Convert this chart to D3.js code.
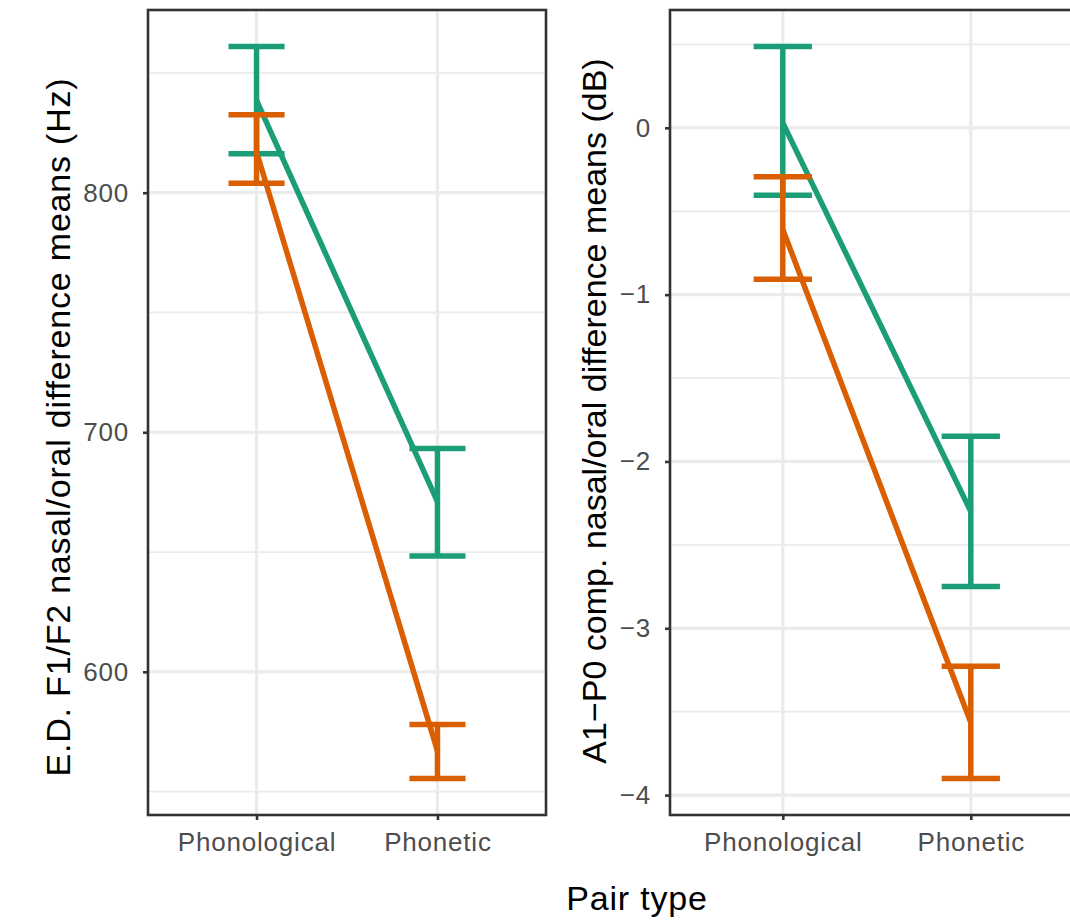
<!DOCTYPE html>
<html lang="en">
<head>
  <meta charset="UTF-8">
  <title>Pair type – nasal/oral difference means</title>
  <script src="https://d3js.org/d3.v7.min.js"></script>
  <style>
    html, body {
      margin: 0;
      padding: 0;
      background: #fff;
      overflow: hidden;
    }
    svg text {
      font-family: "Liberation Sans", Arial, sans-serif;
    }
    .grid-major { stroke: #ebebeb; stroke-width: 3.2px; }
    .grid-minor { stroke: #ebebeb; stroke-width: 1.8px; }
    .axis path { display: none; }
    .axis line { stroke: #333; stroke-width: 2.6px; }
    .axis text { fill: #4d4d4d; font-size: 26px; letter-spacing: 0.8px; }
    .frame { fill: none; stroke: #333; stroke-width: 2.6px; }
    .mean-line, .err { fill: none; stroke-width: 5.5px; stroke-linecap: butt; }
    .title { fill: #000; font-size: 34px; }
  </style>
</head>
<body>
  <svg id="chart" width="1100" height="924"></svg>

  <script>
    // categories on the x axis
    const pairTypes = ["Phonological", "Phonetic"];
    const seriesColors = ["#1b9e77", "#d95f02"];

    // left panel: E.D. F1/F2 (Hz)
    const edMeanGreen = [838.5, 671];
    const edLowGreen = [816.3, 648.3];
    const edHighGreen = [861, 693.2];
    const edMeanOrange = [817, 567];
    const edLowOrange = [804, 555.5];
    const edHighOrange = [832.5, 578];
    const edTicks = [600, 700, 800];
    const edMinor = [550, 650, 750, 850];

    // right panel: A1-P0 comp. (dB)
    const a1MeanGreen = [0.03, -2.3];
    const a1LowGreen = [-0.404, -2.75];
    const a1HighGreen = [0.487, -1.849];
    const a1MeanOrange = [-0.61, -3.565];
    const a1LowOrange = [-0.908, -3.90];
    const a1HighOrange = [-0.293, -3.228];
    const a1Ticks = [-4, -3, -2, -1, 0];
    const a1Minor = [-3.5, -2.5, -1.5, -0.5, 0.5];

    const svg = d3.select("#chart");
    const panelTop = 10, panelBottom = 815;
    const fmt = d => (d < 0 ? "\u2212" + Math.abs(d) : String(d));

    function series(mean, low, high) {
      return pairTypes.map((c, i) => ({ cat: c, mean: mean[i], low: low[i], high: high[i] }));
    }

    const panels = [
      {
        left: 148, right: 546,
        ticks: edTicks, minor: edMinor,
        data: [series(edMeanGreen, edLowGreen, edHighGreen), series(edMeanOrange, edLowOrange, edHighOrange)],
        title: "E.D. F1/F2 nasal/oral difference means (Hz)",
        titleX: 70, titleY: 427, spacing: 0.8
      },
      {
        left: 670, right: 1083.6,
        ticks: a1Ticks, minor: a1Minor,
        data: [series(a1MeanGreen, a1LowGreen, a1HighGreen), series(a1MeanOrange, a1LowOrange, a1HighOrange)],
        title: "A1\u2212P0 comp. nasal/oral difference means (dB)",
        titleX: 606, titleY: 411, spacing: 0
      }
    ];

    panels.forEach(p => {
      // ggplot-like expansion: 5% continuous, 0.6 units discrete
      const all = p.data.flat();
      const lo = d3.min(all, d => d.low), hi = d3.max(all, d => d.high);
      const pad = (hi - lo) * 0.05;
      const y = d3.scaleLinear().domain([lo - pad, hi + pad]).range([panelBottom, panelTop]);
      const x = d3.scalePoint().domain(pairTypes).range([p.left, p.right]).padding(0.6);
      const unit = x.step();
      const capHalf = unit * 0.155;

      const g = svg.append("g");

      // grid
      g.selectAll(".gm").data(p.minor).enter().append("line")
        .attr("class", "grid-minor")
        .attr("x1", p.left).attr("x2", p.right)
        .attr("y1", d => y(d)).attr("y2", d => y(d));
      g.selectAll(".gM").data(p.ticks).enter().append("line")
        .attr("class", "grid-major")
        .attr("x1", p.left).attr("x2", p.right)
        .attr("y1", d => y(d)).attr("y2", d => y(d));
      g.selectAll(".gx").data(pairTypes).enter().append("line")
        .attr("class", "grid-major")
        .attr("x1", d => x(d)).attr("x2", d => x(d))
        .attr("y1", panelTop).attr("y2", panelBottom);

      // mean lines
      const line = d3.line().x(d => x(d.cat)).y(d => y(d.mean));
      p.data.forEach((s, i) => {
        g.append("path").datum(s)
          .attr("class", "mean-line")
          .attr("stroke", seriesColors[i])
          .attr("d", line);
      });

      // error bars
      p.data.forEach((s, i) => {
        const eb = g.append("g").attr("stroke", seriesColors[i]);
        eb.selectAll(".v").data(s).enter().append("line").attr("class", "err")
          .attr("x1", d => x(d.cat)).attr("x2", d => x(d.cat))
          .attr("y1", d => y(d.low)).attr("y2", d => y(d.high));
        eb.selectAll(".ch").data(s).enter().append("line").attr("class", "err")
          .attr("x1", d => x(d.cat) - capHalf).attr("x2", d => x(d.cat) + capHalf)
          .attr("y1", d => y(d.high)).attr("y2", d => y(d.high));
        eb.selectAll(".cl").data(s).enter().append("line").attr("class", "err")
          .attr("x1", d => x(d.cat) - capHalf).attr("x2", d => x(d.cat) + capHalf)
          .attr("y1", d => y(d.low)).attr("y2", d => y(d.low));
      });

      // frame
      g.append("rect").attr("class", "frame")
        .attr("x", p.left).attr("y", panelTop)
        .attr("width", p.right - p.left).attr("height", panelBottom - panelTop);

      // axes
      g.append("g").attr("class", "axis")
        .attr("transform", `translate(${p.left},0)`)
        .call(d3.axisLeft(y).tickValues(p.ticks).tickFormat(fmt).tickSize(5).tickPadding(14));
      g.append("g").attr("class", "axis")
        .attr("transform", `translate(0,${panelBottom})`)
        .call(d3.axisBottom(x).tickSize(5).tickPadding(13));

      // y title
      g.append("text").attr("class", "title")
        .attr("transform", `translate(${p.titleX},${p.titleY}) rotate(-90)`)
        .attr("text-anchor", "middle")
        .style("letter-spacing", p.spacing + "px")
        .text(p.title);
    });

    // shared x title
    svg.append("text").attr("class", "title")
      .attr("x", 637).attr("y", 910)
      .attr("text-anchor", "middle")
      .style("letter-spacing", "0.8px")
      .text("Pair type");
  </script>
</body>
</html>
